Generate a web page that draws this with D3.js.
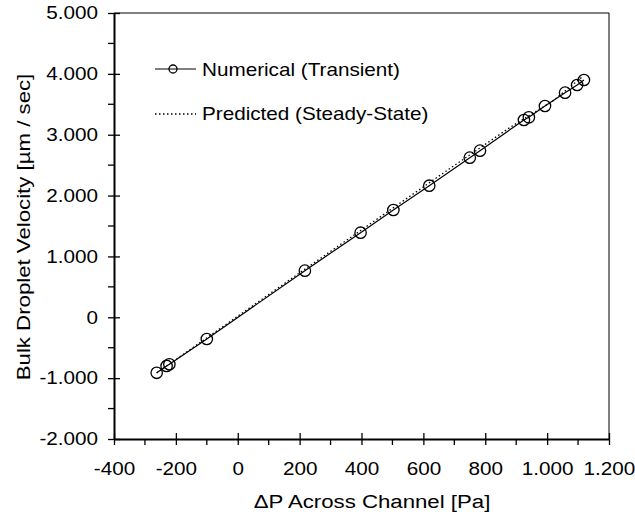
<!DOCTYPE html>
<html>
<head>
<meta charset="utf-8">
<script src="https://cdn.jsdelivr.net/npm/d3@7"></script>
<style>
  body { margin: 0; background: #fff; }
  text { font-family: "Liberation Sans", Arial, sans-serif; fill: #000; }
</style>
</head>
<body>
<div id="chart"></div>
<script>
// numerical (transient) results
var pressure = [-262, -230, -221, -100, 217, 397, 503, 619, 750, 783, 925, 941, 993, 1058, 1097, 1119];
var velocity = [-912, -800, -772, -357, 766, 1390, 1763, 2162, 2623, 2738, 3242, 3286, 3472, 3691, 3817, 3899];

// predicted (steady-state) line
var predP = [-262, 200, 670, 880, 1020, 1117];
var predV = [-915, 730, 2390, 3120, 3560, 3965];

var xTicks = [-400, -200, 0, 200, 400, 600, 800, 1000, 1200];
var yTicks = [-2000, -1000, 0, 1000, 2000, 3000, 4000, 5000];

var W = 635, H = 528;
var margin = {top: 13, right: 26, bottom: 89, left: 114},
    width = W - margin.left - margin.right,
    height = H - margin.top - margin.bottom;

// the original lettering is a bit wider than Liberation Sans
var stretch = 1.15;

var loc = d3.formatLocale({decimal: ",", thousands: ".", grouping: [3], currency: ["", ""], minus: "-"});
var fmt = loc.format(",d");

function widen(sel, s) {
    sel.each(function() {
        var t = d3.select(this);
        var x0 = +(t.attr("x") || 0);
        t.attr("x", x0 / s).attr("transform", "scale(" + s + ",1)");
    });
}

var svg = d3.select("#chart").append("svg")
    .attr("width", W).attr("height", H)
  .append("g")
    .attr("transform", "translate(" + margin.left + "," + margin.top + ")");

var x = d3.scaleLinear().domain([-400, 1200]).range([0, width]);
var y = d3.scaleLinear().domain([-2000, 5000]).range([height, 0]);

// frame top and right (thin)
svg.append("line").attr("x1", 0).attr("x2", width).attr("y1", 0).attr("y2", 0)
    .attr("stroke", "#000").attr("stroke-width", 1);
svg.append("line").attr("x1", width).attr("x2", width).attr("y1", 0).attr("y2", height)
    .attr("stroke", "#000").attr("stroke-width", 1);

// minor ticks (outside only)
var xMinor = d3.range(-300, 1200, 200);
var yMinor = d3.range(-1500, 5000, 1000);
svg.append("g").selectAll("line").data(xMinor).enter().append("line")
    .attr("x1", d => x(d)).attr("x2", d => x(d))
    .attr("y1", height).attr("y2", height + 6)
    .attr("stroke", "#000").attr("stroke-width", 1.3);
svg.append("g").selectAll("line").data(yMinor).enter().append("line")
    .attr("x1", -6).attr("x2", 0)
    .attr("y1", d => y(d)).attr("y2", d => y(d))
    .attr("stroke", "#000").attr("stroke-width", 1.3);

// x axis
var gx = svg.append("g")
    .attr("transform", "translate(0," + height + ")")
    .call(d3.axisBottom(x).tickValues(xTicks).tickFormat(fmt).tickSize(6).tickSizeOuter(0).tickPadding(17));
gx.select(".domain").attr("stroke-width", 2);
gx.selectAll(".tick line").attr("y1", -6).attr("stroke-width", 1.3);
gx.selectAll(".tick text").style("font-size", "18px").call(widen, stretch);

// y axis
var gy = svg.append("g")
    .call(d3.axisLeft(y).tickValues(yTicks).tickFormat(fmt).tickSize(6).tickSizeOuter(0).tickPadding(10));
gy.select(".domain").attr("stroke-width", 2);
gy.selectAll(".tick line").attr("x1", 6).attr("stroke-width", 1.3);
gy.selectAll(".tick text").style("font-size", "18px").call(widen, stretch);

// axis titles
svg.append("text")
    .attr("transform", "translate(258," + (height + 69) + ") scale(1.17,1)")
    .attr("text-anchor", "middle")
    .style("font-size", "19px")
    .text("\u0394P Across Channel [Pa]");
svg.append("text")
    .attr("transform", "translate(" + (-84) + "," + (height / 2 + 1) + ") rotate(-90) scale(1.17,1)")
    .attr("text-anchor", "middle")
    .style("font-size", "19px")
    .text("Bulk Droplet Velocity [\u00b5m / sec]");

// predicted line
var pred = predP.map((p, i) => ({p: p, v: predV[i]}));
svg.append("path").datum(pred)
    .attr("fill", "none").attr("stroke", "#000").attr("stroke-width", 1.3)
    .attr("stroke-dasharray", "1.5,2.5")
    .attr("d", d3.line().x(d => x(d.p)).y(d => y(d.v)));

// numerical line + markers
var num = pressure.map((p, i) => ({p: p, v: velocity[i]}));
svg.append("path").datum(num)
    .attr("fill", "none").attr("stroke", "#000").attr("stroke-width", 1.2)
    .attr("d", d3.line().x(d => x(d.p)).y(d => y(d.v)));
svg.append("g").selectAll("circle").data(num).enter().append("circle")
    .attr("cx", d => x(d.p)).attr("cy", d => y(d.v))
    .attr("r", 5.7)
    .attr("fill", "none").attr("stroke", "#000").attr("stroke-width", 1.3);

// legend
var lg = svg.append("g").attr("transform", "translate(" + (155 - margin.left) + "," + (69 - margin.top) + ")");
lg.append("line").attr("x1", 0).attr("x2", 41).attr("y1", 0).attr("y2", 0)
    .attr("stroke", "#000").attr("stroke-width", 1.2);
lg.append("circle").attr("cx", 18).attr("cy", 0).attr("r", 4)
    .attr("fill", "none").attr("stroke", "#000").attr("stroke-width", 1.3);
lg.append("text").attr("x", 47).attr("y", 6.5).style("font-size", "18px").text("Numerical (Transient)");
lg.append("line").attr("x1", 0).attr("x2", 41).attr("y1", 45).attr("y2", 45)
    .attr("stroke", "#000").attr("stroke-width", 1.3).attr("stroke-dasharray", "1.5,2.5");
lg.append("text").attr("x", 47).attr("y", 51.5).style("font-size", "18px").text("Predicted (Steady-State)");
lg.selectAll("text").call(widen, stretch);
</script>
</body>
</html>
